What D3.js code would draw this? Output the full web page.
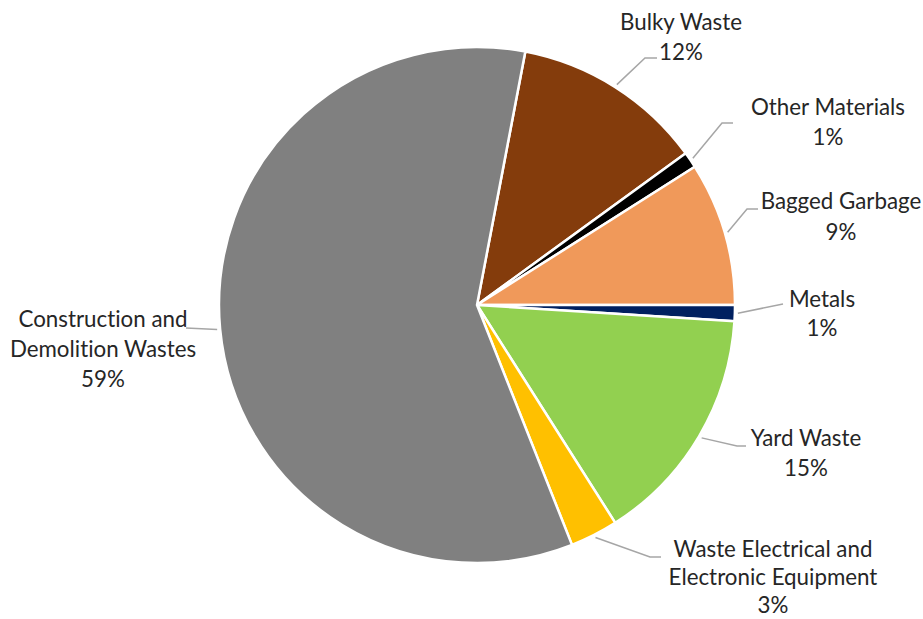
<!DOCTYPE html>
<html>
<head>
<meta charset="utf-8">
<script src="https://cdn.jsdelivr.net/npm/d3@7"></script>
<style>
  html, body { margin: 0; padding: 0; background: #ffffff; }
  svg { display: block; }
  text { font-variant-ligatures: none; }
</style>
</head>
<body>
<svg id="chart" width="923" height="619"></svg>
<script>
// Waste composition (share of total, %)
const categories = [
  "Bulky Waste",
  "Other Materials",
  "Bagged Garbage",
  "Metals",
  "Yard Waste",
  "Waste Electrical and Electronic Equipment",
  "Construction and Demolition Wastes"
];
const shares = [12, 1, 9, 1, 15, 3, 59];
const colors = ["#843C0C", "#000000", "#F0995A", "#002060", "#92D050", "#FFC000", "#808080"];
// Label text lines for each slice name (percent appended below)
const labelLines = [
  ["Bulky Waste"],
  ["Other Materials"],
  ["Bagged Garbage"],
  ["Metals"],
  ["Yard Waste"],
  ["Waste Electrical and", "Electronic Equipment"],
  ["Construction and", "Demolition Wastes"]
];

const svg = d3.select("#chart");
const cx = 477, cy = 305, R = 258;
const firstAngle = 10.8 * Math.PI / 180;

// Label placement: text center x, first line centre y, line gap, leader elbow and end
const labelLayout = [
  { x: 681, y: 21, gap: 30, elbow: [645, 58], end: [657, 58] },
  { x: 828, y: 106, gap: 30, elbow: [722, 123], end: [733, 123] },
  { x: 841, y: 200, gap: 31, elbow: [747, 209], end: [758, 209] },
  { x: 822, y: 298, gap: 29, elbow: [783, 304], end: [783, 304] },
  { x: 806, y: 437, gap: 30, elbow: [737, 446], end: [746, 446] },
  { x: 773, y: 548, gap: 28, elbow: [650, 557], end: [661, 557] },
  { x: 103, y: 318, gap: 30, elbow: [186, 328], end: [186, 328] }
];

const data = categories.map((c, i) => ({ name: c, value: shares[i], color: colors[i], lines: labelLines[i], layout: labelLayout[i] }));

const pie = d3.pie().value(d => d.value).sort(null)
  .startAngle(firstAngle).endAngle(firstAngle + 2 * Math.PI);
const arcs = pie(data);
const arc = d3.arc().innerRadius(0).outerRadius(R);

const g = svg.append("g").attr("transform", `translate(${cx},${cy})`);
g.selectAll("path.slice")
  .data(arcs)
  .join("path")
  .attr("class", "slice")
  .attr("d", arc)
  .attr("fill", d => d.data.color)
  .attr("stroke", "#ffffff")
  .attr("stroke-width", 2.5)
  .attr("stroke-linejoin", "round");

// Font size chosen so the label block widths suit the layout
const fontFamily = "Lato, 'Open Sans', sans-serif";
const probe = svg.append("text").attr("font-family", fontFamily).attr("font-size", 100).text("Construction and");
const probeW = probe.node().getComputedTextLength();
probe.remove();
const fontSize = Math.max(14, Math.min(24, 100 * 169 / probeW));

// Leader lines from slice edge to the label
const leaderArc = d3.arc().innerRadius(R + 3).outerRadius(R + 3);
svg.selectAll("polyline.leader")
  .data(arcs)
  .join("polyline")
  .attr("class", "leader")
  .attr("fill", "none")
  .attr("stroke", "#A6A6A6")
  .attr("stroke-width", 1.5)
  .attr("points", d => {
    const [px, py] = leaderArc.centroid(d);
    const L = d.data.layout;
    return [[cx + px, cy + py], L.elbow, L.end].map(p => p.join(",")).join(" ");
  });

// Labels
const labels = svg.selectAll("text.label")
  .data(arcs)
  .join("text")
  .attr("class", "label")
  .attr("font-family", fontFamily)
  .attr("font-size", fontSize)
  .attr("fill", "#262626")
  .attr("text-anchor", "middle")
  .attr("dominant-baseline", "central");

labels.each(function(d) {
  const t = d3.select(this);
  const L = d.data.layout;
  const lines = d.data.lines.concat([d.data.value + "%"]);
  lines.forEach((ln, i) => {
    t.append("tspan").attr("x", L.x).attr("y", L.y + i * L.gap).text(ln);
  });
});
</script>
</body>
</html>
